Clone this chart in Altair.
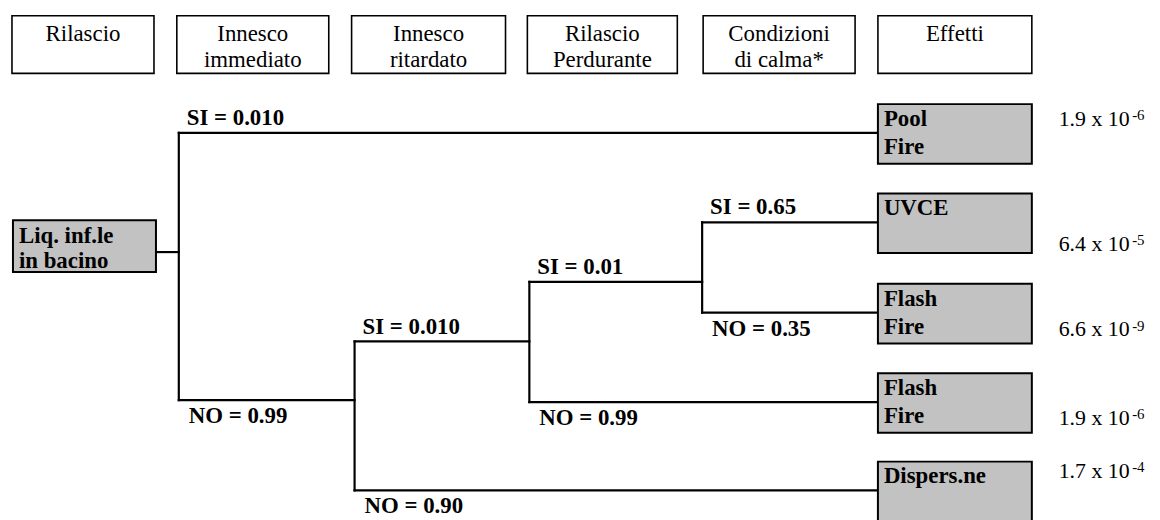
import altair as alt
import pandas as pd

# ---------------- data ----------------
stage_names = ["Rilascio", "Innesco\nimmediato", "Innesco\nritardato",
               "Rilascio\nPerdurante", "Condizioni\ndi calma*", "Effetti"]
initiator = "Liq. inf.le\nin bacino"
branch_answers = ["SI", "NO", "SI", "NO", "SI", "NO", "SI", "NO"]
branch_probs = ["0.010", "0.99", "0.010", "0.90", "0.01", "0.99", "0.65", "0.35"]
outcomes = ["Pool\nFire", "UVCE", "Flash\nFire", "Flash\nFire", "Dispers.ne"]
freq_mant = ["1.9", "6.4", "6.6", "1.9", "1.7"]
freq_exp = ["-6", "-5", "-9", "-6", "-4"]

# ---------------- layout ----------------
STAGE_LEFT = [12, 178, 354, 531, 708, 884]
STAGE_RIGHT = [155, 331, 509, 682, 861, 1039]
HEAD_TOP, HEAD_BOTTOM = 14, 72
HEAD_BASE = 39
INIT_BOX = (13, 157, 220, 272)
INIT_Y = 252
OUT_LEFT, OUT_RIGHT = 884, 1039
OUT_Y = [132, 222, 313, 403, 492]
FREQ_BASE = [125, 251, 337, 426, 479]
FREQ_X, SUP_X = 1066, 1140
# nodes: (x, y_si, y_no, end_si, end_no)
NODES = [(180, 132, 401, OUT_LEFT, 357),
         (357, 342, 492, 533, OUT_LEFT),
         (533, 282, 403, 707, OUT_LEFT),
         (707, 222, 313, OUT_LEFT, OUT_LEFT)]

W, H = 1152, 512
xs = alt.Scale(domain=[8, 8 + W], nice=False, zero=False)
ys = alt.Scale(domain=[8, 8 + H], nice=False, zero=False, reverse=True)
X = lambda f: alt.X(f, type="quantitative", scale=xs, axis=None)
Y = lambda f: alt.Y(f, type="quantitative", scale=ys, axis=None)

FONT = "Liberation Serif"
BOX_FILL = "#c2c2c2"

# header boxes
head_df = pd.DataFrame({
    "x": STAGE_LEFT, "x2": STAGE_RIGHT,
    "y": [HEAD_TOP] * 6, "y2": [HEAD_BOTTOM] * 6,
    "cx": [(a + b) / 2 for a, b in zip(STAGE_LEFT, STAGE_RIGHT)],
    "by": [HEAD_BASE] * 6, "label": stage_names,
})
head_box = alt.Chart(head_df).mark_rect(fill="white", stroke="black", strokeWidth=1.6).encode(
    x=X("x"), x2="x2", y=Y("y"), y2="y2")
head_txt = alt.Chart(head_df).mark_text(font=FONT, fontSize=23, align="center",
                                        baseline="alphabetic", lineBreak="\n",
                                        lineHeight=27, color="black").encode(
    x=X("cx"), y=Y("by"), text="label:N")

# initiator box
init_df = pd.DataFrame({"x": [INIT_BOX[0]], "x2": [INIT_BOX[1]], "y": [INIT_BOX[2]],
                        "y2": [INIT_BOX[3]], "tx": [INIT_BOX[0] + 6], "ty": [243],
                        "label": [initiator]})
init_box = alt.Chart(init_df).mark_rect(fill=BOX_FILL, stroke="black", strokeWidth=2).encode(
    x=X("x"), x2="x2", y=Y("y"), y2="y2")
init_txt = alt.Chart(init_df).mark_text(font=FONT, fontSize=23, fontWeight="bold", align="left",
                                        baseline="alphabetic", lineBreak="\n", lineHeight=25,
                                        color="black").encode(
    x=X("tx"), y=Y("ty"), text="label:N")

# tree segments
segs = [(INIT_BOX[1], INIT_Y, NODES[0][0], INIT_Y)]
lab_rows = []
for i, (nx, ysi, yno, esi, eno) in enumerate(NODES):
    segs.append((nx, ysi, nx, yno))
    segs.append((nx, ysi, esi, ysi))
    segs.append((nx, yno, eno, yno))
    lab_rows.append((nx + 8, ysi - 8, f"{branch_answers[2*i]} = {branch_probs[2*i]}"))
    lab_rows.append((nx + 10, yno + 23, f"{branch_answers[2*i+1]} = {branch_probs[2*i+1]}"))
seg_df = pd.DataFrame(segs, columns=["x", "y", "x2", "y2"])
lines = alt.Chart(seg_df).mark_rule(color="black", strokeWidth=2.2, strokeCap="square").encode(
    x=X("x"), y=Y("y"), x2="x2", y2="y2")
lab_df = pd.DataFrame(lab_rows, columns=["x", "y", "label"])
labels = alt.Chart(lab_df).mark_text(font=FONT, fontSize=23, fontWeight="bold", align="left",
                                     baseline="alphabetic", color="black").encode(
    x=X("x"), y=Y("y"), text="label:N")

# outcome boxes
out_df = pd.DataFrame({
    "x": [OUT_LEFT] * 5, "x2": [OUT_RIGHT] * 5,
    "y": [v - 29 for v in OUT_Y], "y2": [v + 31 for v in OUT_Y],
    "tx": [OUT_LEFT + 6] * 5, "ty": [v - 7 for v in OUT_Y],
    "label": outcomes,
})
out_box = alt.Chart(out_df).mark_rect(fill=BOX_FILL, stroke="black", strokeWidth=2).encode(
    x=X("x"), x2="x2", y=Y("y"), y2="y2")
out_txt = alt.Chart(out_df).mark_text(font=FONT, fontSize=23, fontWeight="bold", align="left",
                                      baseline="alphabetic", lineBreak="\n", lineHeight=28,
                                      color="black").encode(
    x=X("tx"), y=Y("ty"), text="label:N")

# frequencies
fr_df = pd.DataFrame({
    "x": [FREQ_X] * 5, "y": FREQ_BASE, "sx": [SUP_X] * 5,
    "sy": [b - 6 for b in FREQ_BASE],
    "m": [f"{m} x 10" for m in freq_mant], "e": freq_exp,
})
fr_main = alt.Chart(fr_df).mark_text(font=FONT, fontSize=22, align="left",
                                     baseline="alphabetic", color="black").encode(
    x=X("x"), y=Y("y"), text="m:N")
fr_sup = alt.Chart(fr_df).mark_text(font=FONT, fontSize=15, align="left",
                                    baseline="alphabetic", color="black").encode(
    x=X("sx"), y=Y("sy"), text="e:N")

chart = alt.layer(head_box, head_txt, lines, init_box, init_txt, out_box, out_txt,
                  labels, fr_main, fr_sup).properties(
    width=W, height=H, padding=0, autosize=alt.AutoSizeParams(type="none"),
    background="white",
).configure_view(stroke=None)

chart.save("out.html", embed_options={"renderer": "svg", "actions": False})
